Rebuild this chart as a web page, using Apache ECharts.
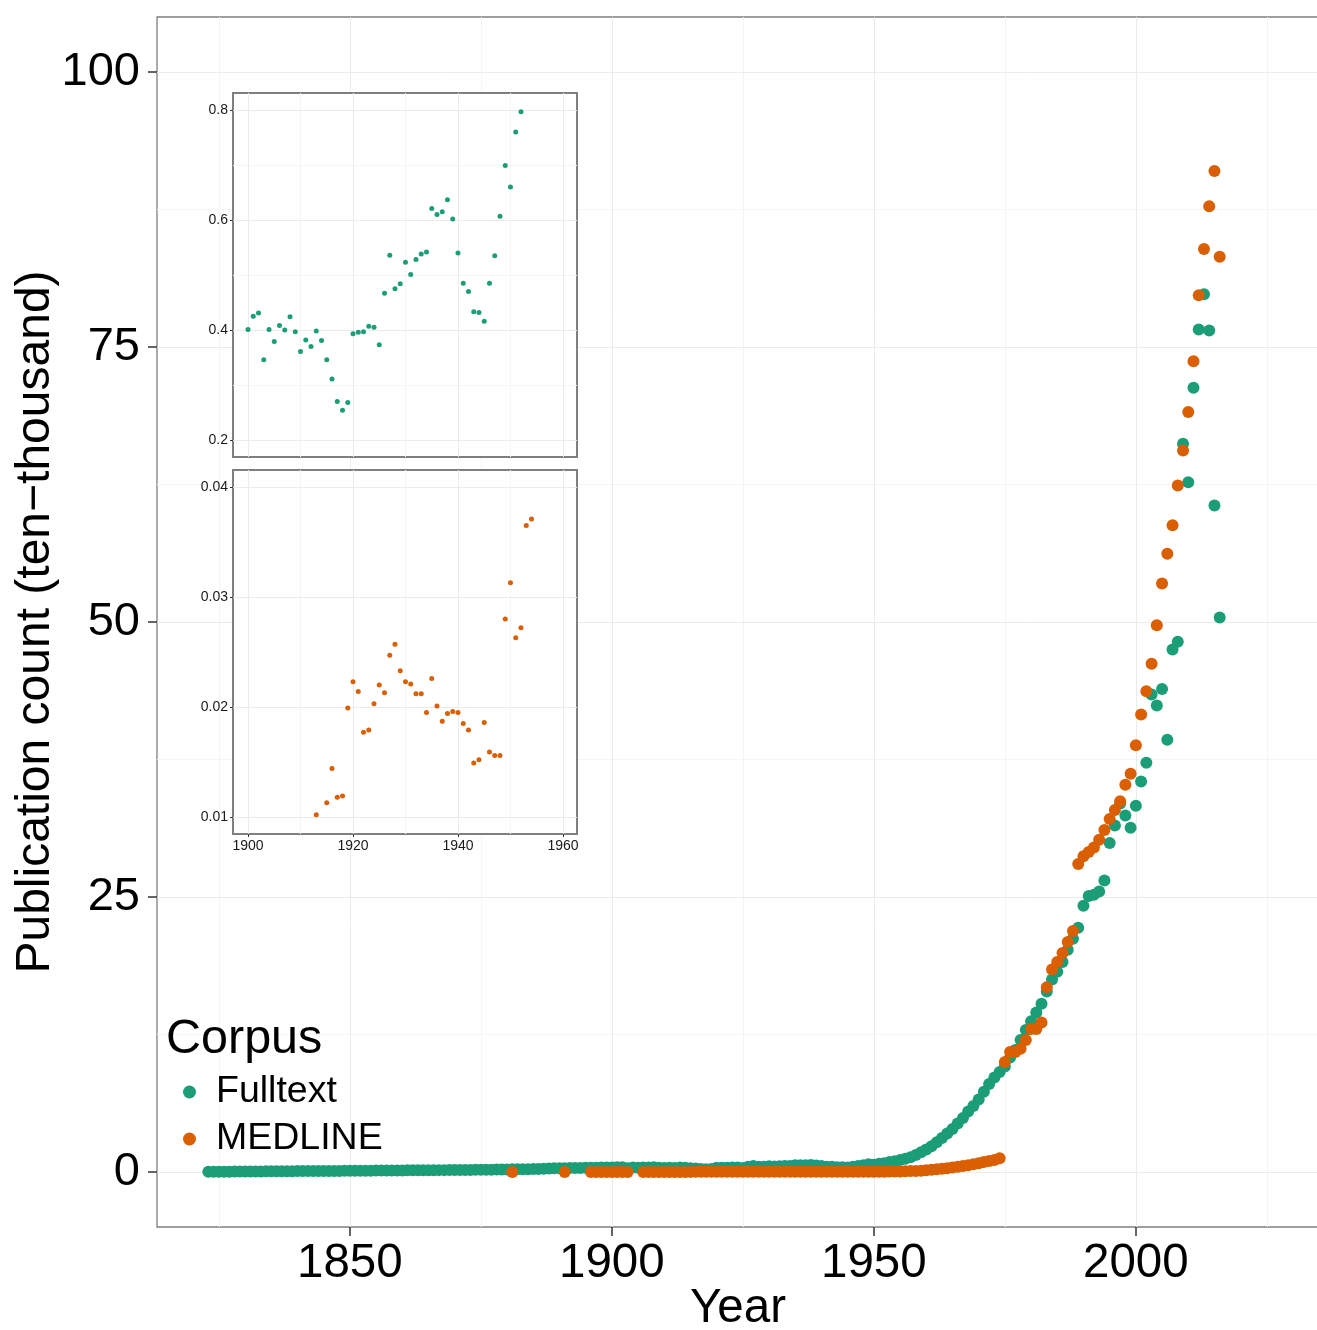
<!DOCTYPE html>
<html><head><meta charset="utf-8">
<script src="https://cdn.jsdelivr.net/npm/echarts@6/dist/echarts.min.js"></script>
<style>html,body{margin:0;padding:0;background:#fff}#c{width:1317px;height:1330px}</style>
</head><body><div id="c"></div>
<script>
// ---------- data (publication count, ten-thousand) ----------
const fulltextEarlyStart = 1823;
const fulltextEarly = [
  0.02,0.02,0.03,0.03,0.03,0.04,0.04,0.04,0.05,0.05,
  0.05,0.06,0.06,0.06,0.07,0.07,0.07,0.08,0.08,0.08,
  0.09,0.09,0.09,0.10,0.10,0.10,0.11,0.11,0.11,0.12,
  0.12,0.12,0.13,0.13,0.13,0.14,0.14,0.14,0.15,0.15,
  0.15,0.16,0.16,0.16,0.17,0.17,0.18,0.18,0.18,0.19,
  0.19,0.20,0.20,0.21,0.21,0.22,0.22,0.23,0.24,0.24,
  0.25,0.26,0.27,0.28,0.30,0.32,0.33,0.34,0.35,0.36,
  0.36,0.37,0.38,0.38,0.39,0.40,0.40
];
const insetStartYear = 1900;
const fulltextInset = [
  0.401,0.425,0.431,0.346,0.401,0.379,0.408,0.400,0.424,0.397,
  0.361,0.382,0.370,0.398,0.381,0.346,0.311,0.270,0.254,0.268,
  0.393,0.396,0.397,0.407,0.405,0.373,0.467,0.536,0.475,0.484,
  0.523,0.501,0.528,0.538,0.542,0.621,0.610,0.615,0.637,0.602,
  0.540,0.485,0.470,0.433,0.432,0.416,0.485,0.535,0.607,0.699,
  0.660,0.760,0.797
];
const fulltextLateStart = 1953;
const fulltextLate = [
  0.90,0.98,1.08,1.20,1.35,1.55,1.80,2.05,2.35,2.70,
  3.10,3.50,3.90,4.40,4.90,5.50,6.00,6.60,7.30,8.00,
  8.60,9.10,9.60,10.4,11.1,12.0,12.9,13.7,14.5,15.3,
  16.4,17.5,18.2,19.1,20.2,21.2,22.2,24.2,25.1,25.2,
  25.5,26.5,29.9,31.5,33.5,32.4,31.3,33.3,35.5,37.2,
  43.4,42.4,43.9,39.3,47.5,48.2,66.2,62.7,71.3,76.6,
  79.8,76.5,60.6,50.4
];
const medlineSparseYears = [1881,1891,1896,1897,1898,1899,1900,1901,1902,1903,1906,1907,1908,1909,1910,1911,1912,1914];
const medlineSparse = [0.001,0.001,0.001,0.001,0.002,0.002,0.002,0.002,0.003,0.003,0.004,0.004,0.005,0.005,0.006,0.006,0.007,0.008];
const medlineInsetYears = [1913,1915,1916,1917,1918,1919,1920,1921,1922,1923,1924,1925,1926,1927,1928,1929,1930,1931,1932,1933,1934,1935,1936,1937,1938,1939,1940,1941,1942,1943,1944,1945,1946,1947,1948,1949,1950,1951,1952,1953,1954];
const medlineInset = [
  0.0102,0.0113,0.0144,0.0118,0.0119,0.0199,0.0223,0.0214,0.0177,0.0179,
  0.0203,0.0220,0.0213,0.0247,0.0257,0.0233,0.0223,0.0221,0.0212,0.0212,
  0.0195,0.0226,0.0201,0.0187,0.0194,0.0196,0.0195,0.0185,0.0179,0.0149,
  0.0152,0.0186,0.0159,0.0156,0.0156,0.0280,0.0313,0.0263,0.0272,0.0365,
  0.0371
];
const medlineLateStart = 1955;
const medlineLate = [
  0.05,0.06,0.08,0.10,0.12,0.15,0.20,0.25,0.30,0.35,
  0.40,0.48,0.55,0.62,0.70,0.80,0.90,1.00,1.10,1.25,
  10.0,10.9,10.9,11.2,12.0,13.0,13.0,13.6,16.8,18.4,
  19.1,19.9,20.9,21.9,28.0,28.7,29.1,29.5,30.2,31.1,
  32.1,32.9,33.7,35.2,36.2,38.8,41.6,43.7,46.2,49.7,
  53.5,56.2,58.8,62.4,65.6,69.1,73.7,79.7,83.9,87.8,
  91.0,83.2
];
const seriesNames = ['Fulltext','MEDLINE'];
const mainXTicks = [1850,1900,1950,2000];
const mainXMinor = [1825,1875,1925,1975,2025];
const mainYTicks = [0,25,50,75,100];
const mainYMinor = [12.5,37.5,62.5,87.5];
const insetXTicks = [1900,1920,1940,1960];
const insetXMinor = [1910,1930,1950];
const inset1YTicks = [0.2,0.4,0.6,0.8];
const inset1YMinor = [0.3,0.5,0.7];
const inset2YTicks = [0.01,0.02,0.03,0.04];
const inset2YMinor = [0.015,0.025,0.035];

// ---------- build ----------
const byStart = (start, arr) => arr.map((v,i)=>[start+i, v]);
const byYears = (years, arr) => arr.map((v,i)=>[years[i], v]);
const fulltextInsetData = byStart(insetStartYear, fulltextInset);
const medlineInsetData = byYears(medlineInsetYears, medlineInset);
const fulltextData = byStart(fulltextEarlyStart, fulltextEarly).concat(fulltextInsetData, byStart(fulltextLateStart, fulltextLate));
const medlineData = byYears(medlineSparseYears, medlineSparse).concat(medlineInsetData, byStart(medlineLateStart, medlineLate)).sort((a,b)=>a[0]-b[0]);

const GREEN = '#1B9E77', ORANGE = '#D95F02';
const FONT = '"Liberation Sans", Arial, Helvetica, sans-serif';
const MAJOR = '#EBEBEB', MINOR = '#F5F5F5';
const plain = v => String(v);

function gridLines(xs, xm, ys, ym, xi, z) {
  const mk = (arr, key, color) => arr.map(v => ({[key]: v, lineStyle: {color, width: 1, type: 'solid'}}));
  return {
    type: 'scatter', xAxisIndex: xi, yAxisIndex: xi, data: [], silent: true, z: z,
    markLine: {
      z: z, silent: true, symbol: ['none','none'], label: {show: false}, animation: false,
      emphasis: {disabled: true},
      data: [].concat(mk(xm,'xAxis',MINOR), mk(ym,'yAxis',MINOR), mk(xs,'xAxis',MAJOR), mk(ys,'yAxis',MAJOR))
    }
  };
}

const chart = echarts.init(document.getElementById('c'), null, {renderer: 'canvas'});
const tickStyle = {color: '#333', width: 1.5};
chart.setOption({
  animation: false,
  backgroundColor: '#fff',
  textStyle: {fontFamily: FONT},
  grid: [
    {left: 157, top: 17, width: 1162, height: 1210, show: true, backgroundColor: '#fff', borderColor: '#7f7f7f', borderWidth: 1.3, z: 0, outerBoundsMode: 'none', containLabel: false},
    {left: 233, top: 93, width: 344, height: 364, show: true, backgroundColor: '#fff', borderColor: '#7f7f7f', borderWidth: 2, z: 3, outerBoundsMode: 'none', containLabel: false},
    {left: 233, top: 470, width: 344, height: 364, show: true, backgroundColor: '#fff', borderColor: '#7f7f7f', borderWidth: 2, z: 3, outerBoundsMode: 'none', containLabel: false}
  ],
  xAxis: [
    {gridIndex: 0, type: 'value', min: 1813.2, max: 2034.95, splitLine: {show: false}, axisLine: {show: false, onZero: false},
     axisTick: {customValues: mainXTicks, length: 9, lineStyle: tickStyle},
     axisLabel: {customValues: mainXTicks, fontSize: 47.5, color: '#000', margin: 13, fontFamily: FONT, formatter: plain},
     name: 'Year', nameLocation: 'middle', nameGap: 58, nameMoveOverlap: false,
     nameTextStyle: {fontSize: 47.5, color: '#000', fontFamily: FONT, verticalAlign: 'top'}},
    {gridIndex: 1, type: 'value', min: 1897.14, max: 1962.67, z: 3, splitLine: {show: false}, axisLine: {show: false, onZero: false},
     axisTick: {show: false}, axisLabel: {show: false}},
    {gridIndex: 2, type: 'value', min: 1897.14, max: 1962.67, z: 3, splitLine: {show: false}, axisLine: {show: false, onZero: false},
     axisTick: {customValues: insetXTicks, length: 3, lineStyle: {color: '#333', width: 1}},
     axisLabel: {customValues: insetXTicks, fontSize: 14, color: '#1a1a1a', margin: 5, fontFamily: FONT, formatter: plain}}
  ],
  yAxis: [
    {gridIndex: 0, type: 'value', min: -5, max: 105, splitLine: {show: false}, axisLine: {show: false, onZero: false},
     axisTick: {customValues: mainYTicks, length: 9, lineStyle: tickStyle},
     axisLabel: {customValues: mainYTicks, fontSize: 47, color: '#000', margin: 17, fontFamily: FONT, formatter: plain},
     name: 'Publication count (ten\u2212thousand)', nameLocation: 'middle', nameGap: 97, nameRotate: 90, nameMoveOverlap: false,
     nameTextStyle: {fontSize: 48, color: '#000', fontFamily: FONT}},
    {gridIndex: 1, type: 'value', min: 0.1691, max: 0.8309, z: 3, splitLine: {show: false}, axisLine: {show: false, onZero: false},
     axisTick: {customValues: inset1YTicks, length: 3, lineStyle: {color: '#333', width: 1}},
     axisLabel: {customValues: inset1YTicks, fontSize: 14, color: '#1a1a1a', margin: 5, fontFamily: FONT, formatter: v => v.toFixed(1)}},
    {gridIndex: 2, type: 'value', min: 0.008455, max: 0.041545, z: 3, splitLine: {show: false}, axisLine: {show: false, onZero: false},
     axisTick: {customValues: inset2YTicks, length: 3, lineStyle: {color: '#333', width: 1}},
     axisLabel: {customValues: inset2YTicks, fontSize: 14, color: '#1a1a1a', margin: 5, fontFamily: FONT, formatter: v => v.toFixed(2)}}
  ],
  legend: {
    orient: 'vertical', left: 183, top: 1073, padding: 0, itemWidth: 13, itemHeight: 13, itemGap: 9, icon: 'circle',
    selectedMode: false,
    textStyle: {fontSize: 37.5, color: '#000', fontFamily: FONT, lineHeight: 37, padding: [0,0,0,15]},
    data: seriesNames
  },
  graphic: [
    {type: 'text', left: 166, top: 1015, z: 10, style: {text: 'Corpus', fontSize: 48.5, fill: '#000', fontFamily: FONT}}
  ],
  series: [
    gridLines(mainXTicks, mainXMinor, mainYTicks, mainYMinor, 0, 1),
    gridLines(insetXTicks, insetXMinor, inset1YTicks, inset1YMinor, 1, 4),
    gridLines(insetXTicks, insetXMinor, inset2YTicks, inset2YMinor, 2, 4),
    {name: seriesNames[0], type: 'scatter', xAxisIndex: 0, yAxisIndex: 0, data: fulltextData, symbolSize: 12, z: 2,
     itemStyle: {color: GREEN, opacity: 1}, emphasis: {disabled: true}},
    {name: seriesNames[1], type: 'scatter', xAxisIndex: 0, yAxisIndex: 0, data: medlineData, symbolSize: 12, z: 2,
     itemStyle: {color: ORANGE, opacity: 1}, emphasis: {disabled: true}},
    {name: seriesNames[0], type: 'scatter', xAxisIndex: 1, yAxisIndex: 1, data: fulltextInsetData, symbolSize: 5, z: 5,
     itemStyle: {color: GREEN, opacity: 1}, emphasis: {disabled: true}},
    {name: seriesNames[1], type: 'scatter', xAxisIndex: 2, yAxisIndex: 2, data: medlineInsetData, symbolSize: 5, z: 5,
     itemStyle: {color: ORANGE, opacity: 1}, emphasis: {disabled: true}}
  ]
});
</script></body></html>
